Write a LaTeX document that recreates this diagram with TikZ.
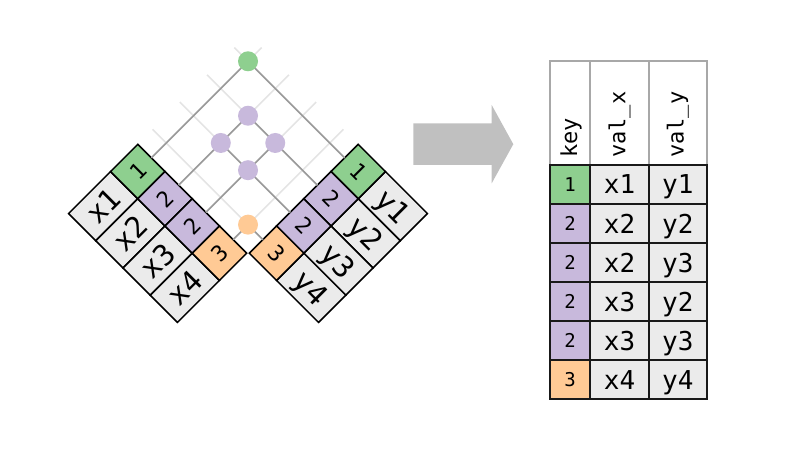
\documentclass[tikz,border=0pt]{standalone}
\usepackage{fontspec}
\setmonofont{DejaVu Sans Mono}
\definecolor{kgreen}{HTML}{8ECF8F}
\definecolor{kpurple}{HTML}{C8B9DC}
\definecolor{korange}{HTML}{FFCA95}
\definecolor{cellgray}{HTML}{EBEBEB}
\definecolor{gridlight}{HTML}{E4E4E4}
\definecolor{griddark}{HTML}{9A9A9A}
\definecolor{hdrgray}{HTML}{A8A8A8}
\definecolor{arrowgray}{HTML}{C0C0C0}
\begin{document}
\begin{tikzpicture}[x=1pt,y=1pt,
  dcell/.style={draw=black, line width=1.5pt, inner sep=0pt, minimum height=38.5pt, text depth=0pt},
  lval/.style={dcell, fill=cellgray, minimum width=59.4pt, rotate=45, text height=21pt, font=\ttfamily\fontsize{29}{29}\selectfont},
  lkey/.style={dcell, minimum width=38.5pt, rotate=45, text height=16pt, font=\ttfamily\fontsize{22}{22}\selectfont},
  rval/.style={dcell, fill=cellgray, minimum width=59.4pt, rotate=-45, text height=21pt, font=\ttfamily\fontsize{29}{29}\selectfont},
  rkey/.style={dcell, minimum width=38.5pt, rotate=-45, text height=16pt, font=\ttfamily\fontsize{22}{22}\selectfont},
  lightln/.style={draw=gridlight, line width=1.6pt},
  darkln/.style={draw=griddark, line width=1.6pt},
  match/.style={circle, inner sep=0pt, minimum size=20pt},
  hdr/.style={draw=hdrgray, line width=1.8pt, fill=white, minimum height=104.3pt, inner sep=0pt},
  htxt/.style={rotate=90, anchor=west, inner sep=0pt, font=\ttfamily\fontsize{22}{22}\selectfont},
  tcell/.style={draw=black!90, line width=1.6pt, inner sep=0pt, minimum height=39.05pt, text depth=0pt},
  tval/.style={tcell, fill=cellgray, text height=19pt, font=\ttfamily\fontsize{26}{26}\selectfont},
  tkey/.style={tcell, minimum width=40pt, text height=13.8pt, font=\ttfamily\fontsize{19}{19}\selectfont}
]
\useasboundingbox (0,0) rectangle (787,456);

% ---------- left table (x) ----------
\begin{scope}[shift={(137.8,311.7)}, rotate=45]
  \node[lval] (lx1) at (-68.2,-19.25) {x1};
  \node[lval] (lx2) at (-68.2,-57.75) {x2};
  \node[lval] (lx3) at (-68.2,-96.25) {x3};
  \node[lval] (lx4) at (-68.2,-134.75) {x4};
  \node[lkey, fill=kgreen]  (lk1) at (-19.25,-19.25) {1};
  \node[lkey, fill=kpurple] (lk2) at (-19.25,-57.75) {2};
  \node[lkey, fill=kpurple] (lk3) at (-19.25,-96.25) {2};
  \node[lkey, fill=korange] (lk4) at (-19.25,-134.75) {3};
  \coordinate (Ls1) at (0,-19.25);  \coordinate (Le1) at (156,-19.25);
  \coordinate (Ls2) at (0,-57.75);  \coordinate (Le2) at (156,-57.75);
  \coordinate (Ls3) at (0,-96.25);  \coordinate (Le3) at (156,-96.25);
  \coordinate (Ls4) at (0,-134.75); \coordinate (Le4) at (156,-134.75);
\end{scope}

% ---------- right table (y) ----------
\begin{scope}[shift={(358.2,311.7)}, rotate=-45]
  \node[rval] (ry1) at (68.2,-19.25) {y1};
  \node[rval] (ry2) at (68.2,-57.75) {y2};
  \node[rval] (ry3) at (68.2,-96.25) {y3};
  \node[rval] (ry4) at (68.2,-134.75) {y4};
  \node[rkey, fill=kgreen]  (rk1) at (19.25,-19.25) {1};
  \node[rkey, fill=kpurple] (rk2) at (19.25,-57.75) {2};
  \node[rkey, fill=kpurple] (rk3) at (19.25,-96.25) {2};
  \node[rkey, fill=korange] (rk4) at (19.25,-134.75) {3};
  \coordinate (Rs1) at (0,-19.25);  \coordinate (Re1) at (-156,-19.25);
  \coordinate (Rs2) at (0,-57.75);  \coordinate (Re2) at (-156,-57.75);
  \coordinate (Rs3) at (0,-96.25);  \coordinate (Re3) at (-156,-96.25);
  \coordinate (Rs4) at (0,-134.75); \coordinate (Re4) at (-156,-134.75);
\end{scope}

% ---------- grid ----------
\foreach \i in {1,2,3,4} {
  \draw[lightln] (Ls\i) -- (Le\i);
  \draw[lightln] (Rs\i) -- (Re\i);
}
\coordinate (m11) at (intersection of Ls1--Le1 and Rs1--Re1);
\coordinate (m22) at (intersection of Ls2--Le2 and Rs2--Re2);
\coordinate (m23) at (intersection of Ls2--Le2 and Rs3--Re3);
\coordinate (m32) at (intersection of Ls3--Le3 and Rs2--Re2);
\coordinate (m33) at (intersection of Ls3--Le3 and Rs3--Re3);
\coordinate (m44) at (intersection of Ls4--Le4 and Rs4--Re4);

\draw[darkln] (Ls1) -- (m11) -- (Rs1);
\draw[darkln] (Ls2) -- (m22) -- (Rs2);
\draw[darkln] (Ls3) -- (m32);
\draw[darkln] (Rs3) -- (m23);
\draw[darkln] (Ls4) -- (m44) -- (Rs4);

\node[match, fill=kgreen]  (c11) at (m11) {};
\node[match, fill=kpurple] (c22) at (m22) {};
\node[match, fill=kpurple] (c23) at (m23) {};
\node[match, fill=kpurple] (c32) at (m32) {};
\node[match, fill=kpurple] (c33) at (m33) {};
\node[match, fill=korange] (c44) at (m44) {};

% ---------- arrow ----------
\fill[arrowgray] (413.3,332.7) -- (491.7,332.7) -- (491.7,351) -- (513.3,311.8)
  -- (491.7,272.7) -- (491.7,291) -- (413.3,291) -- cycle;

% ---------- result table ----------
\node[hdr, minimum width=40pt]   (hk) at (570,343.15) {};
\node[hdr, minimum width=59pt]   (hx) at (619.5,343.15) {};
\node[hdr, minimum width=57.7pt] (hy) at (677.85,343.15) {};
\node[htxt] (hkt) at (571,298) {key};
\node[htxt] (hxt) at (619.5,298) {val\_x};
\node[htxt] (hyt) at (677.85,298) {val\_y};

\node[tkey, fill=kgreen]  (k1) at (570,271.5)  {1};
\node[tkey, fill=kpurple] (k2) at (570,232.45) {2};
\node[tkey, fill=kpurple] (k3) at (570,193.4)  {2};
\node[tkey, fill=kpurple] (k4) at (570,154.35) {2};
\node[tkey, fill=kpurple] (k5) at (570,115.3)  {2};
\node[tkey, fill=korange] (k6) at (570,76.25)  {3};

\node[tval, minimum width=59pt] (x1) at (619.5,271.5)  {x1};
\node[tval, minimum width=59pt] (x2) at (619.5,232.45) {x2};
\node[tval, minimum width=59pt] (x3) at (619.5,193.4)  {x2};
\node[tval, minimum width=59pt] (x4) at (619.5,154.35) {x3};
\node[tval, minimum width=59pt] (x5) at (619.5,115.3)  {x3};
\node[tval, minimum width=59pt] (x6) at (619.5,76.25)  {x4};

\node[tval, minimum width=57.7pt] (y1) at (677.85,271.5)  {y1};
\node[tval, minimum width=57.7pt] (y2) at (677.85,232.45) {y2};
\node[tval, minimum width=57.7pt] (y3) at (677.85,193.4)  {y3};
\node[tval, minimum width=57.7pt] (y4) at (677.85,154.35) {y2};
\node[tval, minimum width=57.7pt] (y5) at (677.85,115.3)  {y3};
\node[tval, minimum width=57.7pt] (y6) at (677.85,76.25)  {y4};
\end{tikzpicture}
\end{document}
